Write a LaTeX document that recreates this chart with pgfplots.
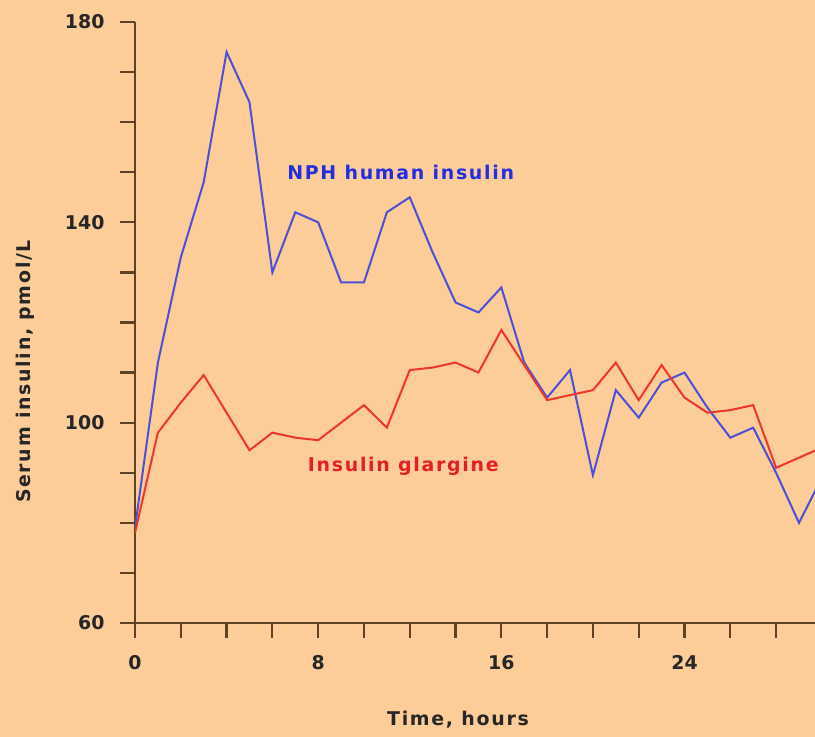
\documentclass[border=0pt]{standalone}
\usepackage{fontspec}
\setmainfont{DejaVu Sans}
\newfontfamily\lbl[LetterSpace=9]{DejaVu Sans}
\usepackage{pgfplots}
\pgfplotsset{compat=1.18}
\definecolor{bg}{RGB}{252,204,153}
\definecolor{axisc}{RGB}{95,65,35}
\definecolor{nph}{RGB}{75,80,215}
\definecolor{glar}{RGB}{238,55,40}
\definecolor{nphtxt}{RGB}{35,45,225}
\definecolor{glartxt}{RGB}{230,30,40}
\begin{document}
\begin{tikzpicture}[x=1bp,y=1bp]
\fill[bg] (0,0) rectangle (815,737);
\useasboundingbox (0,0) rectangle (815,737);
\begin{axis}[
  at={(135bp,114bp)}, anchor=south west,
  scale only axis, width=680bp, height=601bp,
  xmin=0, xmax=29.7, ymin=60, ymax=180,
  axis x line*=bottom, axis y line*=left,
  axis line style={-, draw=axisc, line width=2.2bp},
  xtick={0,8,16,24}, minor xtick={2,4,6,10,12,14,18,20,22,26,28},
  ytick={60,100,140,180}, minor ytick={70,80,90,110,120,130,150,160,170},
  tick align=outside, major tick length=15bp, minor tick length=15bp,
  tick style={draw=axisc, line width=2.2bp},
  every tick label/.append style={font=\fontsize{19}{22}\selectfont\bfseries, text=black!85},
  /pgf/number format/assume math mode=true,
  xticklabel style={yshift=-14bp},
  yticklabel style={xshift=-12bp},
]
\addplot[nph, line width=2bp] coordinates {
(0,79) (1,112) (2,133) (3,148) (4,174) (5,164) (6,130) (7,142) (8,140) (9,128)
(10,128) (11,142) (12,145) (13,134) (14,124) (15,122) (16,127) (17,112) (18,105) (19,110.5)
(20,89.5) (21,106.5) (22,101) (23,108) (24,110) (25,103) (26,97) (27,99) (28,90) (29,80) (30,89)
};
\addplot[glar, line width=2bp] coordinates {
(0,78) (1,98) (2,104) (3,109.5) (4,102) (5,94.5) (6,98) (7,97) (8,96.5) (9,100)
(10,103.5) (11,99) (12,110.5) (13,111) (14,112) (15,110) (16,118.5) (17,111.5) (18,104.5) (19,105.5)
(20,106.5) (21,112) (22,104.5) (23,111.5) (24,105) (25,102) (26,102.5) (27,103.5) (28,91) (29,93) (30,95)
};
\node[anchor=west, font=\lbl\fontsize{19}{22}\selectfont\bfseries, text=nphtxt] at (axis cs:6.5,150) {NPH human insulin};
\node[anchor=west, font=\lbl\fontsize{19}{22}\selectfont\bfseries, text=glartxt] at (axis cs:7.4,91.3) {Insulin glargine};
\end{axis}
\node[rotate=90, font=\lbl\fontsize{19}{22}\selectfont\bfseries, text=black!85] at (25,365.5) {Serum insulin, pmol/L};
\node[font=\lbl\fontsize{19}{22}\selectfont\bfseries, text=black!85] at (458,17) {Time, hours};
\end{tikzpicture}
\end{document}
